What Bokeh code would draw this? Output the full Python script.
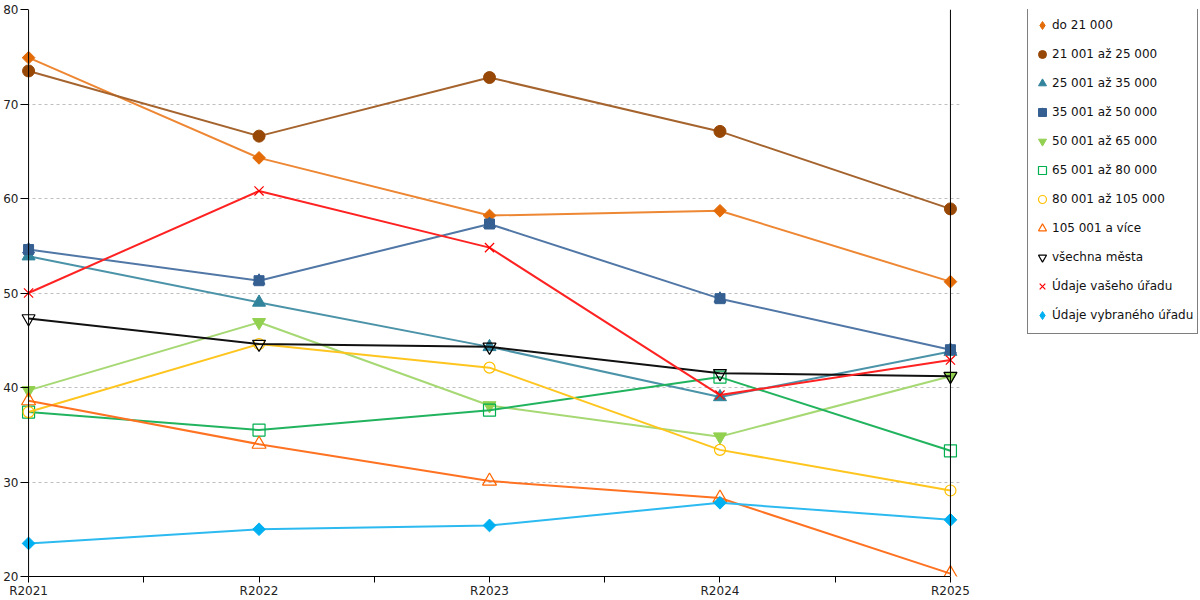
import math
from bokeh.plotting import figure
from bokeh.models import Range1d, FixedTicker, Span, Legend, LegendItem, ColumnDataSource, BoxAnnotation
from bokeh.embed import file_html
from bokeh.resources import INLINE

years = ["R2021", "R2022", "R2023", "R2024", "R2025"]

labels = [
    "do 21 000",
    "21 001 až 25 000",
    "25 001 až 35 000",
    "35 001 až 50 000",
    "50 001 až 65 000",
    "65 001 až 80 000",
    "80 001 až 105 000",
    "105 001 a více",
    "všechna města",
    "Údaje vašeho úřadu",
    "Údaje vybraného úřadu",
]

do_21000 = [74.9, 64.3, 58.2, 58.7, 51.2]
od_21001_25000 = [73.5, 66.6, 72.8, 67.1, 58.9]
od_25001_35000 = [53.9, 49.0, 44.3, 39.0, 43.8]
od_35001_50000 = [54.6, 51.3, 57.3, 49.4, 44.0]
od_50001_65000 = [39.7, 46.9, 38.1, 34.8, 41.2]
od_65001_80000 = [37.4, 35.5, 37.6, 41.1, 33.3]
od_80001_105000 = [37.4, 44.6, 42.1, 33.4, 29.1]
od_105001 = [38.6, 34.0, 30.1, 28.3, 20.3]
vsechna_mesta = [47.3, 44.6, 44.3, 41.5, 41.2]
vas_urad = [50.0, 60.8, 54.8, 39.2, 42.9]
vybrany_urad = [23.5, 25.0, 25.4, 27.8, 26.0]

values = [do_21000, od_21001_25000, od_25001_35000, od_35001_50000, od_50001_65000,
          od_65001_80000, od_80001_105000, od_105001, vsechna_mesta, vas_urad, vybrany_urad]

Q = math.pi / 4
# style: (list of (marker, size, angle), legend marker or None, marker colour, line colour, filled)
styles = [
    ([("square", 9, Q)], "diamond", "#E36C09", "#EE8733", True),
    ([("circle", 12, 0)], None, "#974706", "#A5642E", True),
    ([("triangle", 13, 0)], None, "#31849B", "#4B93A8", True),
    ([("square", 10, 0), ("triangle", 12, 0)], None, "#366092", "#5077A6", True),
    ([("inverted_triangle", 13, 0)], None, "#92D050", "#A6D873", True),
    ([("square", 12, 0)], None, "#00B050", "#22B35E", False),
    ([("circle", 11, 0)], None, "#FFC000", "#FFC51F", False),
    ([("triangle", 14, 0)], None, "#FF6600", "#FF7222", False),
    ([("inverted_triangle", 13, 0)], None, "#000000", "#111111", False),
    ([("x", 13, 0)], None, "#FF0000", "#FF2222", False),
    ([("square", 9, Q)], "diamond", "#00B0F0", "#2CBAF0", True),
]

FONT = "DejaVu Sans"
xs = list(range(len(years)))
last = len(years) - 1
PAD = 0.035

p = figure(width=1200, height=600, x_range=Range1d(-PAD, 5.085),
           y_range=Range1d(20, 80), output_backend="svg", toolbar_location=None,
           min_border_left=0, min_border_top=9, min_border_right=0, min_border_bottom=0)
p.outline_line_color = None
p.background_fill_color = "white"
p.xgrid.grid_line_color = None
p.ygrid.grid_line_color = "#BFBFBF"
p.ygrid.grid_line_dash = "3 3"
p.ygrid.grid_line_width = 1

yax = p.yaxis[0]
yax.ticker = FixedTicker(ticks=[20, 30, 40, 50, 60, 70, 80])
yax.axis_line_color = None
yax.major_tick_in = 8
yax.major_tick_out = 0
yax.minor_tick_line_color = None
yax.major_tick_line_color = "black"
yax.major_label_standoff = 2
yax.major_label_text_font = FONT
yax.major_label_text_font_size = "12px"
yax.major_label_text_color = "#222222"

xax = p.xaxis[0]
half = [i * 0.5 for i in range(2 * last + 1)]
xax.ticker = FixedTicker(ticks=half)
overrides = {}
for t in half:
    if abs(t - round(t)) < 1e-9:
        overrides[t] = years[int(round(t))]
    else:
        overrides[t] = ""
xax.major_label_overrides = overrides
xax.bounds = (0, last)
xax.axis_line_color = "black"
xax.major_tick_in = 0
xax.major_tick_out = 6
xax.minor_tick_line_color = None
xax.major_label_standoff = 1
xax.major_label_text_font = FONT
xax.major_label_text_font_size = "12px"
xax.major_label_text_color = "#222222"

items = []
for lab, vals, (markers, leg_marker, mcol, lcol, filled) in zip(labels, values, styles):
    src = ColumnDataSource(dict(x=xs, y=vals))
    p.line("x", "y", source=src, line_color=lcol, line_width=2)
    rs = []
    for m, s, a in markers:
        if filled:
            r = p.scatter("x", "y", source=src, marker=m, size=s, angle=a, fill_color=mcol,
                          line_color=mcol, line_width=1)
        else:
            r = p.scatter("x", "y", source=src, marker=m, size=s, angle=a, fill_color=None,
                          line_color=mcol, line_width=1.2)
        rs.append(r)
    if leg_marker is not None:
        # zero-size twin used only for the legend symbol
        rs = [p.scatter("x", "y", source=src, marker=leg_marker, size=0, fill_color=mcol,
                        line_color=mcol, line_width=1)]
    items.append(LegendItem(label=lab, renderers=rs))

# blank the area right of the last category (where the legend sits)
p.add_layout(BoxAnnotation(left=last + PAD + 0.005, fill_color="white", fill_alpha=1,
                           line_color=None))
p.add_layout(Span(location=0, dimension="height", line_color="black", line_width=1))
p.add_layout(Span(location=last, dimension="height", line_color="black", line_width=1))

legend = Legend(items=items, location=(1007, 242))
legend.border_line_color = "black"
legend.border_line_width = 1
legend.background_fill_color = "white"
legend.background_fill_alpha = 1
legend.label_text_font = FONT
legend.label_text_font_size = "12px"
legend.label_text_color = "#111111"
legend.glyph_width = 20
legend.glyph_height = 28
legend.label_standoff = 0
legend.label_height = 29
legend.spacing = 0
legend.padding = 4
legend.margin = 0
p.add_layout(legend, "center")

open("out.html", "w").write(file_html(p, INLINE))
